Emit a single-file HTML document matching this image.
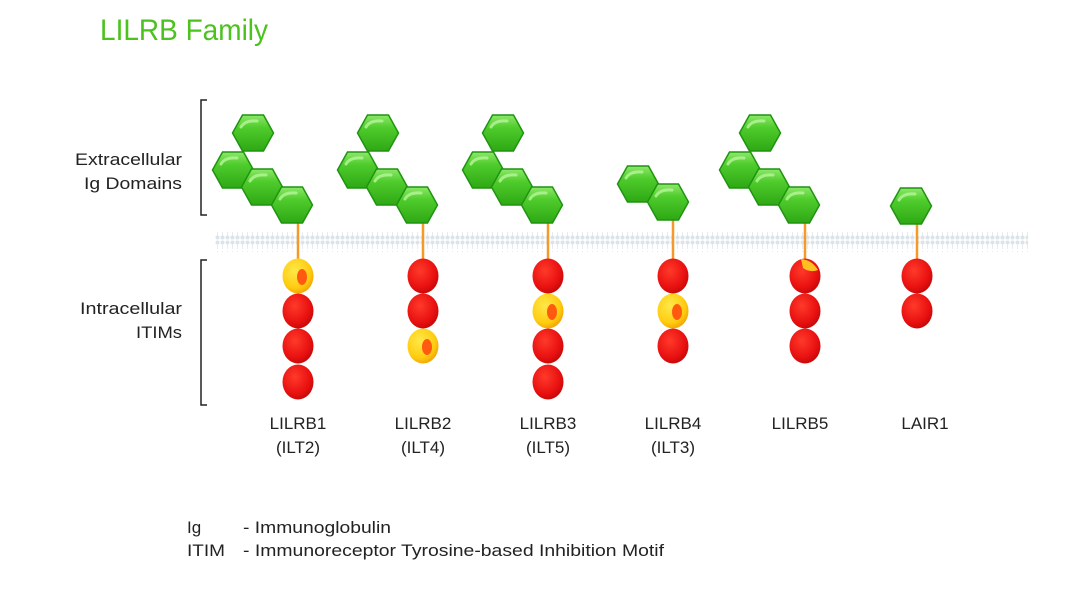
<!DOCTYPE html>
<html><head><meta charset="utf-8"><style>
html,body{margin:0;padding:0;background:#fff}
svg{display:block}
text{font-family:"Liberation Sans","DejaVu Sans",sans-serif}
</style></head><body>
<svg width="1080" height="607" viewBox="0 0 1080 607" xmlns="http://www.w3.org/2000/svg">
<defs>
<linearGradient id="hg" x1="0" y1="0" x2="0" y2="1">
<stop offset="0" stop-color="#8ee86a"/><stop offset="0.35" stop-color="#4fcc2c"/><stop offset="1" stop-color="#2ea814"/>
</linearGradient>
<radialGradient id="rg" cx="0.4" cy="0.35" r="0.7">
<stop offset="0" stop-color="#ff3a2a"/><stop offset="0.7" stop-color="#e81010"/><stop offset="1" stop-color="#c00808"/>
</radialGradient>
<radialGradient id="yg" cx="0.4" cy="0.35" r="0.7">
<stop offset="0" stop-color="#ffe84a"/><stop offset="0.7" stop-color="#ffcc10"/><stop offset="1" stop-color="#f0a000"/>
</radialGradient>
<pattern id="mem" width="5" height="20" patternUnits="userSpaceOnUse">
<circle cx="2.5" cy="2.5" r="2" fill="#dbe4ea"/><line x1="2.5" y1="4" x2="2.5" y2="9" stroke="#e6ecf0" stroke-width="1"/>
<line x1="2.5" y1="11" x2="2.5" y2="16" stroke="#e6ecf0" stroke-width="1"/><circle cx="2.5" cy="17.5" r="2" fill="#dbe4ea"/>
</pattern>
<g id="hex"><polygon points="-20.5,0 -10.5,-18 10.5,-18 20.5,0 10.5,18 -10.5,18" fill="url(#hg)" stroke="#1f9410" stroke-width="1.5"/>
<path d="M-12,-6 Q-8,-13 4,-12" stroke="#b6f59a" stroke-width="3" fill="none" stroke-linecap="round" opacity="0.8"/></g>
<g id="rc"><ellipse cx="0" cy="0" rx="15.5" ry="17.5" fill="url(#rg)"/></g>
<g id="yc"><ellipse cx="0" cy="0" rx="15.5" ry="17.5" fill="url(#yg)"/><ellipse cx="4" cy="1" rx="5" ry="8" fill="#ff5a10"/></g>
</defs>

<text x="100" y="40" font-size="30" fill="#4cc21e" textLength="168" lengthAdjust="spacingAndGlyphs">LILRB Family</text>

<rect x="215" y="232" width="813" height="20" fill="url(#mem)"/>

<path d="M207,100 H201 V215 H207" stroke="#222" stroke-width="1.5" fill="none"/>
<path d="M207,260 H201 V405 H207" stroke="#222" stroke-width="1.5" fill="none"/>
<g font-size="17" fill="#222" text-anchor="end">
<text x="182" y="165" textLength="107" lengthAdjust="spacingAndGlyphs">Extracellular</text>
<text x="182" y="189" textLength="98" lengthAdjust="spacingAndGlyphs">Ig Domains</text>
<text x="182" y="314" textLength="102" lengthAdjust="spacingAndGlyphs">Intracellular</text>
<text x="182" y="338" textLength="46" lengthAdjust="spacingAndGlyphs">ITIMs</text>
</g>

<g stroke="#f59a2a" stroke-width="2.5">
<line x1="298" y1="220" x2="298" y2="262"/><line x1="423" y1="220" x2="423" y2="262"/>
<line x1="548" y1="220" x2="548" y2="262"/><line x1="673" y1="218" x2="673" y2="262"/>
<line x1="805" y1="220" x2="805" y2="262"/><line x1="917" y1="222" x2="917" y2="262"/>
</g>

<use href="#hex" x="253" y="133"/><use href="#hex" x="233" y="170"/><use href="#hex" x="262" y="187"/><use href="#hex" x="292" y="205"/>
<use href="#hex" x="378" y="133"/><use href="#hex" x="358" y="170"/><use href="#hex" x="387" y="187"/><use href="#hex" x="417" y="205"/>
<use href="#hex" x="503" y="133"/><use href="#hex" x="483" y="170"/><use href="#hex" x="512" y="187"/><use href="#hex" x="542" y="205"/>
<use href="#hex" x="638" y="184"/><use href="#hex" x="668" y="202"/>
<use href="#hex" x="760" y="133"/><use href="#hex" x="740" y="170"/><use href="#hex" x="769" y="187"/><use href="#hex" x="799" y="205"/>
<use href="#hex" x="911" y="206"/>

<use href="#yc" x="298" y="276"/><use href="#rc" x="298" y="311"/><use href="#rc" x="298" y="346"/><use href="#rc" x="298" y="382"/>
<use href="#rc" x="423" y="276"/><use href="#rc" x="423" y="311"/><use href="#yc" x="423" y="346"/>
<use href="#rc" x="548" y="276"/><use href="#yc" x="548" y="311"/><use href="#rc" x="548" y="346"/><use href="#rc" x="548" y="382"/>
<use href="#rc" x="673" y="276"/><use href="#yc" x="673" y="311"/><use href="#rc" x="673" y="346"/>
<use href="#rc" x="805" y="276"/><path d="M801,259 Q812,260 818,270 Q810,273 803,268 Z" fill="#ffc020"/><use href="#rc" x="805" y="311"/><use href="#rc" x="805" y="346"/>
<use href="#rc" x="917" y="276"/><use href="#rc" x="917" y="311"/>

<g font-size="17" fill="#222" text-anchor="middle">
<text x="298" y="429">LILRB1</text><text x="298" y="453">(ILT2)</text>
<text x="423" y="429">LILRB2</text><text x="423" y="453">(ILT4)</text>
<text x="548" y="429">LILRB3</text><text x="548" y="453">(ILT5)</text>
<text x="673" y="429">LILRB4</text><text x="673" y="453">(ILT3)</text>
<text x="800" y="429">LILRB5</text>
<text x="925" y="429">LAIR1</text>
</g>

<g font-size="17" fill="#222">
<text x="187" y="533">Ig</text><text x="243" y="533" textLength="148" lengthAdjust="spacingAndGlyphs">- Immunoglobulin</text>
<text x="187" y="556" textLength="38" lengthAdjust="spacingAndGlyphs">ITIM</text><text x="243" y="556" textLength="421" lengthAdjust="spacingAndGlyphs">- Immunoreceptor Tyrosine-based Inhibition Motif</text>
</g>
</svg>
</body></html>
